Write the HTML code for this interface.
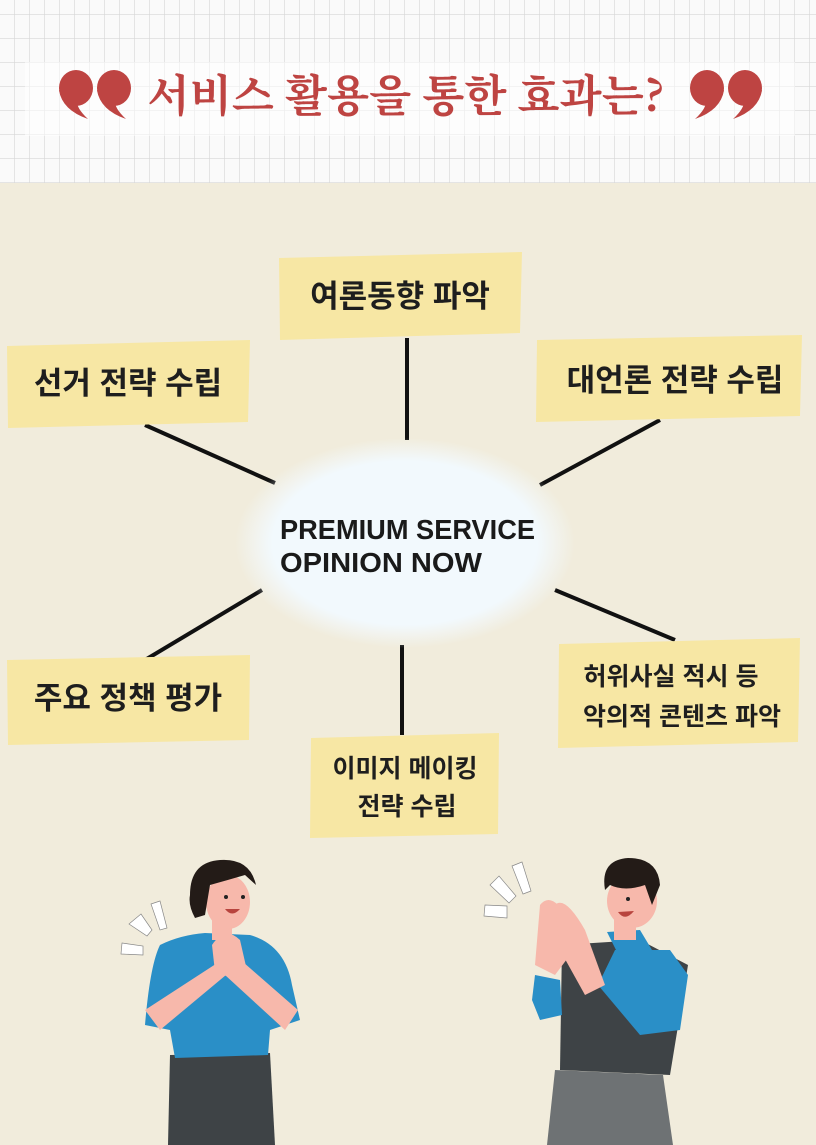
<!DOCTYPE html>
<html><head><meta charset="utf-8"><style>
html,body{margin:0;padding:0;background:#f1ecdc;}
svg{display:block}
text{font-family:"Liberation Sans","Noto Sans CJK KR",sans-serif;}
</style></head><body>
<svg width="816" height="1145" viewBox="0 0 816 1145" xmlns="http://www.w3.org/2000/svg">
<defs>
<pattern id="grid" width="15" height="24" patternUnits="userSpaceOnUse" x="0" y="-9">
<rect width="15" height="24" fill="#fafafa"/>
<path d="M15 0V24M0 24H15" stroke="#d8d8d8" stroke-width="1.3" fill="none"/>
</pattern>
<radialGradient id="glow" cx="50%" cy="50%" r="50%">
<stop offset="0.78" stop-color="#f2f9fd"/>
<stop offset="1" stop-color="#f2f9fd" stop-opacity="0"/>
</radialGradient>
<g id="q">
<ellipse cx="0" cy="0" rx="17" ry="18"/>
<path d="M-17 2Q-14 22 12 31Q0 20 1 12Z"/>
</g>
</defs>
<rect width="816" height="183" fill="url(#grid)"/>
<rect x="25" y="62" width="770" height="74" fill="#ffffff" opacity="0.55"/>
<g fill="#be4442">
<use href="#q" x="76" y="88"/>
<use href="#q" x="114" y="88"/>
<g transform="translate(1448 0) scale(-1 1)">
<use href="#q" x="703" y="88"/>
<use href="#q" x="741" y="88"/>
</g>
</g>
<text x="406" y="111" text-anchor="middle" font-size="44" font-weight="bold" fill="#be4442" textLength="517" lengthAdjust="spacingAndGlyphs" style="font-family:'Noto Serif CJK SC','Liberation Serif',serif">서비스 활용을 통한 효과는?</text>

<g stroke="#111" stroke-width="4">
<line x1="407" y1="338" x2="407" y2="440"/>
<line x1="145" y1="425" x2="275" y2="483"/>
<line x1="660" y1="420" x2="540" y2="485"/>
<line x1="262" y1="590" x2="145" y2="660"/>
<line x1="402" y1="645" x2="402" y2="735"/>
<line x1="555" y1="590" x2="675" y2="640"/>
</g>
<ellipse cx="405" cy="543" rx="170" ry="105" fill="url(#glow)"/>
<text x="280" y="539" font-size="28" font-weight="bold" fill="#1a1a1a" textLength="255" lengthAdjust="spacingAndGlyphs">PREMIUM SERVICE</text>
<text x="280" y="572" font-size="28" font-weight="bold" fill="#1a1a1a" textLength="202" lengthAdjust="spacingAndGlyphs">OPINION NOW</text>

<g fill="#f7e7a4">
<path d="M279 258L522 252 520 333 280 340z"/>
<path d="M7 346L250 340 248 422 8 428z"/>
<path d="M537 340L802 335 800 416 536 422z"/>
<path d="M7 660L250 655 249 740 8 745z"/>
<path d="M559 644L800 638 798 742 558 748z"/>
<path d="M311 738L499 733 498 834 310 838z"/>
</g>
<g font-weight="bold" fill="#1e1e1e" text-anchor="middle">
<text x="400" y="307" font-size="31">여론동향 파악</text>
<text x="128" y="394" font-size="31">선거 전략 수립</text>
<text x="675" y="391" font-size="31">대언론 전략 수립</text>
<text x="128" y="709" font-size="31">주요 정책 평가</text>
<text x="671" y="685" font-size="25">허위사실 적시 등</text>
<text x="682" y="725" font-size="25">악의적 콘텐츠 파악</text>
<text x="405" y="777" font-size="25">이미지 메이킹</text>
<text x="407" y="815" font-size="25">전략 수립</text>
</g>

<!-- woman -->
<g>
<g fill="#fff" stroke="#888" stroke-width="0.7">
<path d="M122 943L143 946 143 955 121 954z"/>
<path d="M129 924L141 914 152 930 147 936z"/>
<path d="M151 904L160 901 167 928 160 930z"/>
</g>
<path d="M170 1055L270 1053 275 1145 168 1145z" fill="#3e4346"/>
<path d="M160 945Q180 935 205 933L250 935Q285 945 292 985L300 1020 270 1030 268 1055 175 1058 170 1030 145 1025Q150 965 160 945z" fill="#2a8fc7"/>
<path d="M145 1010L160 1030 232 970 225 958z" fill="#f7b8ab"/>
<path d="M298 1010L285 1030 225 975 235 955z" fill="#f7b8ab"/>
<path d="M212 945Q225 925 240 940L248 975 232 978 215 972z" fill="#f7b8ab"/>
<rect x="212" y="920" width="20" height="20" fill="#f7b8ab"/>
<ellipse cx="228" cy="902" rx="22" ry="27" fill="#f7b8ab"/>
<path d="M190 895Q190 862 220 860Q250 858 256 885L245 875Q228 880 210 885L205 915 195 918Q188 905 190 895z" fill="#231b17"/>
<circle cx="226" cy="897" r="2" fill="#222"/><circle cx="243" cy="897" r="2" fill="#222"/>
<path d="M225 909Q232 918 240 909z" fill="#b8443e"/>
</g>
<!-- man -->
<g>
<g fill="#fff" stroke="#888" stroke-width="0.7">
<path d="M485 905L507 906 507 918 484 916z"/>
<path d="M490 885L499 876 516 896 509 903z"/>
<path d="M512 866L522 862 531 891 523 894z"/>
</g>
<path d="M555 1070L663 1075 673 1145 547 1145z" fill="#6e7274"/>
<path d="M562 945L640 940 688 965 670 1075 560 1070z" fill="#3e4346"/>
<path d="M535 975L560 980 562 1015 540 1020 532 1000z" fill="#2a8fc7"/>
<path d="M615 950L670 950 688 975 680 1030 640 1035 598 985z" fill="#2a8fc7"/>
<path d="M607 932L640 930 652 950 620 958z" fill="#2a8fc7"/>
<path d="M540 905Q548 895 558 905L570 955 555 975 535 965z" fill="#f7b8ab"/>
<path d="M555 905Q565 895 585 930L605 985 585 995 560 950z" fill="#f7b8ab"/>
<rect x="614" y="915" width="22" height="25" fill="#f7b8ab"/>
<ellipse cx="632" cy="901" rx="25" ry="27" fill="#f7b8ab"/>
<path d="M605 890Q600 860 628 858Q658 858 660 885L652 905 645 885Q625 892 610 885z" fill="#231b17"/>
<circle cx="628" cy="899" r="2" fill="#222"/>
<path d="M618 912Q625 922 634 911z" fill="#b8443e"/>
</g>
</svg>
</body></html>
